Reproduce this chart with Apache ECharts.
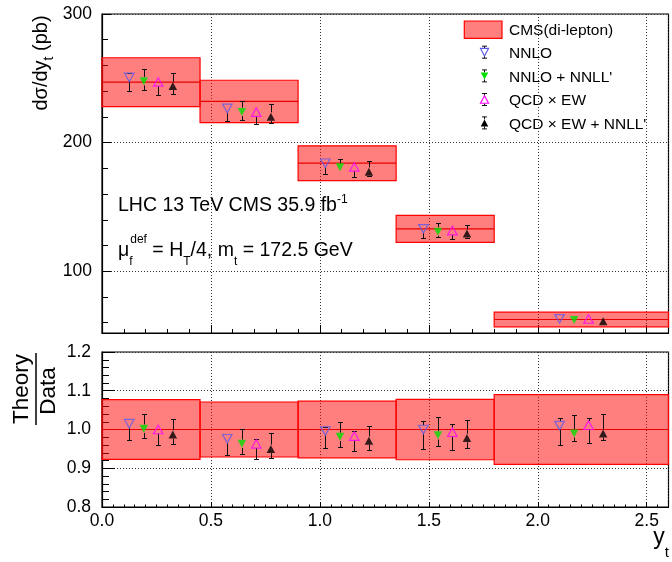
<!DOCTYPE html>
<html><head><meta charset="utf-8">
<script src="https://cdn.jsdelivr.net/npm/echarts@6/dist/echarts.min.js"></script>
<style>html,body{margin:0;padding:0;background:#fff}#c{width:672px;height:562px}</style>
</head><body><div id="c"></div>
<script>
// ---- data ----
const binLo = [0, 0.45, 0.9, 1.35, 1.8];
const binHi = [0.45, 0.9, 1.35, 1.8, 2.6];
const dataVal = [247, 232, 184, 133, 62.5];
const dataErr = [19, 16.5, 13.5, 10.5, 5.7];
const ratioCentral = [1, 1, 1, 1, 1];
const ratioErr = [0.077, 0.071, 0.073, 0.078, 0.09];

const xNNLO = [0.125, 0.575, 1.025, 1.475, 2.1];
const xNNLL = [0.192, 0.642, 1.092, 1.542, 2.167];
const xQCDEW = [0.258, 0.708, 1.158, 1.608, 2.233];
const xQCDEWNNLL = [0.325, 0.775, 1.225, 1.675, 2.3];

const nnloVal = [250.7, 226.6, 184, 133, 63];
const nnloLo = [240.2, 216.7, 175.4, 126.1, 61.5];
const nnloHi = [254, 229, 186.5, 135.5, 64.5];
const nnllVal = [247.8, 223.9, 180.9, 130.8, 62.2];
const nnllLo = [241, 217.7, 177.7, 126.9, 61];
const nnllHi = [257.1, 232.7, 187.6, 137.3, 63.5];
const qcdewVal = [247.2, 223.7, 181.1, 131.6, 62.9];
const qcdewLo = [236.9, 214.3, 173.3, 125, 61.5];
const qcdewHi = [250, 226.5, 183.5, 133.5, 64.5];
const qcdewnnllVal = [244.1, 220.2, 177.4, 129.4, 61.1];
const qcdewnnllLo = [237.9, 215.1, 173.9, 126.1, 60];
const qcdewnnllHi = [254, 229.9, 185.5, 135.7, 62.5];

const rNnloVal = [1.015, 0.976, 0.996, 1.0, 1.01];
const rNnloLo = [0.973, 0.933, 0.952, 0.95, 0.961];
const rNnloHi = [1.025, 0.985, 1.007, 1.021, 1.029];
const rNnllVal = [1.002, 0.963, 0.981, 0.985, 0.99];
const rNnllLo = [0.977, 0.938, 0.956, 0.957, 0.97];
const rNnllHi = [1.041, 1.002, 1.019, 1.033, 1.037];
const rQcdewVal = [1.0, 0.963, 0.983, 0.993, 1.011];
const rQcdewLo = [0.96, 0.923, 0.944, 0.947, 0.966];
const rQcdewHi = [1.008, 0.976, 0.996, 1.014, 1.03];
const rQcdewnnllVal = [0.987, 0.95, 0.971, 0.978, 0.99];
const rQcdewnnllLo = [0.963, 0.927, 0.948, 0.951, 0.973];
const rQcdewnnllHi = [1.027, 0.99, 1.008, 1.025, 1.039];

const xTicks = [0, 0.5, 1.0, 1.5, 2.0, 2.5];
const yTopTicks = [100, 200, 300];

const legendNames = ['CMS(di-lepton)', 'NNLO', "NNLO + NNLL'", 'QCD × EW', "QCD × EW + NNLL'"];

// ---- styling ----
const FONT = '"Liberation Sans", Arial, Helvetica, sans-serif';
const C_NNLO = '#5a5ae8', C_NNLL = '#00e000', C_QCDEW = '#ff00ff', C_BLK = '#000000';
const BOX_FILL = 'rgba(255,0,0,0.5)';

function zip4(a, b, c, d) { return a.map((v, i) => [v, b[i], c[i], d[i]]); }

function boxItem(params, api) {
  const x0 = api.value(0), x1 = api.value(1), v = api.value(2), e = api.value(3);
  const p0 = api.coord([x0, v + e]);
  const p1 = api.coord([x1, v - e]);
  const c0 = api.coord([x0, v]);
  const c1 = api.coord([x1, v]);
  return {type: 'group', children: [
    {type: 'rect', shape: {x: p0[0], y: p0[1], width: p1[0] - p0[0], height: p1[1] - p0[1]},
     style: {fill: BOX_FILL, stroke: '#ff0000', lineWidth: 1.2}},
    {type: 'line', shape: {x1: c0[0], y1: c0[1], x2: c1[0], y2: c1[1]},
     style: {stroke: '#e80000', lineWidth: 1.2}}
  ]};
}

function errItem(params, api) {
  const x = api.value(0), v = api.value(1), lo = api.value(2), hi = api.value(3);
  const c = api.coord([x, v]), pl = api.coord([x, lo]), ph = api.coord([x, hi]);
  const gap = 4.2, cw = 2.5;
  const xs = Math.round(c[0]) + 0.5;
  const st = {stroke: '#111', lineWidth: 1};
  const kids = [];
  if (pl[1] > c[1] + gap) {
    const yl = Math.round(pl[1]) + 0.5;
    kids.push({type: 'line', shape: {x1: xs, y1: c[1] + gap, x2: xs, y2: yl}, style: st});
    kids.push({type: 'line', shape: {x1: xs - cw, y1: yl, x2: xs + cw, y2: yl}, style: st});
  }
  if (ph[1] < c[1] - gap) {
    const yh = Math.round(ph[1]) + 0.5;
    kids.push({type: 'line', shape: {x1: xs, y1: c[1] - gap, x2: xs, y2: yh}, style: st});
    kids.push({type: 'line', shape: {x1: xs - cw, y1: yh, x2: xs + cw, y2: yh}, style: st});
  }
  return {type: 'group', children: kids};
}

const theory = [
  {name: legendNames[1], x: xNNLO, top: [nnloVal, nnloLo, nnloHi], bot: [rNnloVal, rNnloLo, rNnloHi],
   symbol: 'triangle', rot: 180, size: [9.5, 8.5], item: {color: 'rgba(0,0,0,0)', borderColor: C_NNLO, borderWidth: 1.2}},
  {name: legendNames[2], x: xNNLL, top: [nnllVal, nnllLo, nnllHi], bot: [rNnllVal, rNnllLo, rNnllHi],
   symbol: 'triangle', rot: 180, size: [8.5, 8], item: {color: C_NNLL}},
  {name: legendNames[3], x: xQCDEW, top: [qcdewVal, qcdewLo, qcdewHi], bot: [rQcdewVal, rQcdewLo, rQcdewHi],
   symbol: 'triangle', rot: 0, size: [9.5, 8.5], item: {color: 'rgba(0,0,0,0)', borderColor: C_QCDEW, borderWidth: 1.2}},
  {name: legendNames[4], x: xQCDEWNNLL, top: [qcdewnnllVal, qcdewnnllLo, qcdewnnllHi], bot: [rQcdewnnllVal, rQcdewnnllLo, rQcdewnnllHi],
   symbol: 'triangle', rot: 0, size: [8.5, 8], item: {color: C_BLK}}
];

const series = [
  {type: 'custom', name: legendNames[0], xAxisIndex: 0, yAxisIndex: 0, z: 1, silent: true,
   renderItem: boxItem, data: zip4(binLo, binHi, dataVal, dataErr), encode: {x: [0, 1], y: 2}},
  {type: 'custom', name: legendNames[0], xAxisIndex: 1, yAxisIndex: 1, z: 1, silent: true,
   renderItem: boxItem, data: zip4(binLo, binHi, ratioCentral, ratioErr), encode: {x: [0, 1], y: 2}}
];
theory.forEach(t => {
  [[0, t.top], [1, t.bot]].forEach(([ax, arr]) => {
    series.push({type: 'custom', name: t.name, xAxisIndex: ax, yAxisIndex: ax, z: 3, silent: true,
      renderItem: errItem, data: zip4(t.x, arr[0], arr[1], arr[2]), encode: {x: 0, y: [1, 2, 3]}});
    series.push({type: 'scatter', name: t.name, xAxisIndex: ax, yAxisIndex: ax, z: 4, silent: true,
      symbol: t.symbol, symbolRotate: t.rot, symbolSize: t.size, itemStyle: t.item,
      data: t.x.map((x, i) => [x, arr[0][i]])});
  });
});

const splitStyle = {show: true, lineStyle: {color: '#333', width: 1, type: [1, 2]}};
const labelStyle = {color: '#000', fontFamily: FONT, fontSize: 17.5};

function xAxisCfg(idx, showLabel) {
  return {
    type: 'value', gridIndex: idx, min: 0, max: 2.6, interval: 0.5,
    axisLine: {show: true, onZero: false, lineStyle: {color: '#000', width: 1.2}},
    axisTick: {show: true, inside: true, length: idx === 0 ? 8 : 5, lineStyle: {color: '#000'}},
    minorTick: {show: true, splitNumber: idx === 0 ? 5 : 10, length: idx === 0 ? 4 : 2.5, lineStyle: {color: '#000'}},
    splitLine: splitStyle,
    axisLabel: {show: showLabel, margin: 5, lineHeight: 18, ...labelStyle,
      showMinLabel: true, showMaxLabel: true,
      formatter: v => (xTicks.some(t => Math.abs(t - v) < 1e-6) ? v.toFixed(1) : '')}
  };
}

const option = {
  animation: false,
  backgroundColor: '#fff',
  grid: [
    {left: 102, right: 3.5, top: 14, height: 319, show: true, borderColor: '#000', borderWidth: 1.2, backgroundColor: 'transparent'},
    {left: 102, right: 3.5, top: 352, height: 155, show: true, borderColor: '#000', borderWidth: 1.2, backgroundColor: 'transparent'}
  ],
  xAxis: [xAxisCfg(0, false), xAxisCfg(1, true)],
  yAxis: [
    {type: 'value', gridIndex: 0, min: 52, max: 300, minInterval: 100, maxInterval: 100, splitNumber: 2,
     axisLine: {show: true, onZero: false, lineStyle: {color: '#000', width: 1.2}},
     axisTick: {show: true, inside: true, length: 9, lineStyle: {color: '#000'}},
     minorTick: {show: true, splitNumber: 5, length: 6, lineStyle: {color: '#000'}},
     splitLine: splitStyle,
     axisLabel: {margin: 10, ...labelStyle, showMaxLabel: true,
       formatter: v => (yTopTicks.indexOf(Math.round(v)) >= 0 && Math.abs(v - Math.round(v)) < 1e-6 ? String(Math.round(v)) : '')}},
    {type: 'value', gridIndex: 1, min: 0.8, max: 1.2, interval: 0.1,
     axisLine: {show: true, onZero: false, lineStyle: {color: '#000', width: 1.2}},
     axisTick: {show: true, inside: true, length: 13, lineStyle: {color: '#000'}},
     minorTick: {show: true, splitNumber: 5, length: 7, lineStyle: {color: '#000'}},
     splitLine: splitStyle,
     axisLabel: {margin: 11, ...labelStyle, showMinLabel: true, showMaxLabel: true, formatter: v => v.toFixed(1)}}
  ],
  series: series,
  graphic: {elements: buildGraphics()}
};

function buildGraphics() {
  const els = [];
  // y-axis title (top)
  els.push({type: 'text', x: 41, y: 63, rotation: Math.PI / 2, silent: true,
    style: {text: '{m|dσ/dy}{s|t}{m| (pb)}', align: 'center', verticalAlign: 'middle', fill: '#000',
      rich: {m: {fontSize: 20, fontFamily: FONT, lineHeight: 30, fill: '#000'},
             s: {fontSize: 14, fontFamily: FONT, lineHeight: 14, verticalAlign: 'bottom', fill: '#000'}}}});
  // Theory / Data (bottom)
  els.push({type: 'text', x: 21.5, y: 389, rotation: Math.PI / 2, silent: true,
    style: {text: 'Theory', align: 'center', verticalAlign: 'middle', fill: '#000', fontSize: 22.5, fontFamily: FONT}});
  els.push({type: 'text', x: 48.5, y: 391, rotation: Math.PI / 2, silent: true,
    style: {text: 'Data', align: 'center', verticalAlign: 'middle', fill: '#000', fontSize: 22.5, fontFamily: FONT}});
  els.push({type: 'line', silent: true, shape: {x1: 36, y1: 353, x2: 36, y2: 425}, style: {stroke: '#000', lineWidth: 1.5}});
  // x-axis title
  els.push({type: 'text', x: 669, y: 538, silent: true,
    style: {text: '{m|y}{s|t}', align: 'right', verticalAlign: 'middle', fill: '#000',
      rich: {m: {fontSize: 23, fontFamily: FONT, lineHeight: 44, fill: '#000'},
             s: {fontSize: 15, fontFamily: FONT, lineHeight: 15, verticalAlign: 'bottom', fill: '#000'}}}});
  // annotation lines
  els.push({type: 'text', x: 118, y: 205.8, silent: true,
    style: {text: '{m|LHC 13 TeV CMS 35.9 fb}{sp|-1}', align: 'left', verticalAlign: 'middle', fill: '#000',
      rich: {m: {fontSize: 19.5, fontFamily: FONT, lineHeight: 24, fill: '#000'},
             sp: {fontSize: 12, fontFamily: FONT, lineHeight: 12, verticalAlign: 'top', fill: '#000'}}}});
  els.push({type: 'text', x: 118, y: 250.2, silent: true,
    style: {text: '{m|μ}{sbf|f}{sp|def}{m| = H}{sb|T}{m|/4, m}{sb|t}{m| = 172.5 GeV}', align: 'left', verticalAlign: 'middle', fill: '#000',
      rich: {m: {fontSize: 19.5, fontFamily: FONT, lineHeight: 34, fill: '#000'},
             sp: {fontSize: 12, fontFamily: FONT, lineHeight: 12, verticalAlign: 'top', fill: '#000'},
             sbf: {fontSize: 12, fontFamily: FONT, lineHeight: 12, verticalAlign: 'bottom', width: 1, fill: '#000'},
             sb: {fontSize: 12, fontFamily: FONT, lineHeight: 12, verticalAlign: 'bottom', fill: '#000'}}}});
  // legend
  const lx = 509, icx = 484.5;
  const ty = [31, 53.7, 77.4, 101, 124.4];
  els.push({type: 'rect', silent: true, shape: {x: 464.3, y: 21, width: 37.7, height: 17.3},
    style: {fill: BOX_FILL, stroke: '#ff0000', lineWidth: 1.2}});
  legendNames.forEach((n, i) => {
    els.push({type: 'text', x: lx, y: ty[i], silent: true,
      style: {text: n, align: 'left', verticalAlign: 'middle', fill: '#000', fontSize: 15.5, fontFamily: FONT}});
  });
  const icons = [
    {down: true, fill: 'none', stroke: C_NNLO, w: 8, h: 7.5},
    {down: true, fill: C_NNLL, stroke: null, w: 7.5, h: 7},
    {down: false, fill: 'none', stroke: C_QCDEW, w: 8, h: 7.5},
    {down: false, fill: C_BLK, stroke: null, w: 7.5, h: 7}
  ];
  icons.forEach((ic, k) => {
    const cy = ty[k + 1] - 1.5;
    const hw = ic.w / 2, hh = ic.h / 2, g = hh, bl = 6, cw = 2.5;
    const st = {stroke: '#111', lineWidth: 1};
    els.push({type: 'line', silent: true, shape: {x1: icx, y1: cy - bl, x2: icx, y2: cy - g}, style: st});
    els.push({type: 'line', silent: true, shape: {x1: icx, y1: cy + g, x2: icx, y2: cy + bl}, style: st});
    els.push({type: 'line', silent: true, shape: {x1: icx - cw, y1: cy - bl, x2: icx + cw, y2: cy - bl}, style: st});
    els.push({type: 'line', silent: true, shape: {x1: icx - cw, y1: cy + bl, x2: icx + cw, y2: cy + bl}, style: st});
    const pts = ic.down ? [[icx - hw, cy - hh], [icx + hw, cy - hh], [icx, cy + hh]]
                        : [[icx - hw, cy + hh], [icx + hw, cy + hh], [icx, cy - hh]];
    els.push({type: 'polygon', silent: true, shape: {points: pts},
      style: {fill: ic.fill === 'none' ? '#fff' : ic.fill, stroke: ic.stroke || null, lineWidth: 1.2}});
  });
  return els;
}

const chart = echarts.init(document.getElementById('c'), null, {renderer: 'canvas'});
chart.setOption(option);
</script>
</body></html>
